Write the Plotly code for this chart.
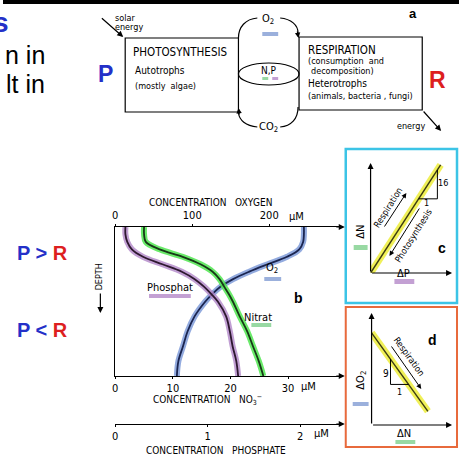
import plotly.graph_objects as go

W, H = 459, 456

# ---------------- data ----------------
# panel b: vertical profiles, relative depth (0 = surface, 1 = bottom)
depth = [0, 0.05, 0.1, 0.15, 0.2, 0.25, 0.3, 0.35, 0.4, 0.45, 0.5, 0.6, 0.7, 0.8, 0.9, 1.0]
oxygen_uM = [245, 245, 244, 239, 223, 198, 174, 153, 137, 126, 117, 103, 94, 88, 82, 80]
nitrate_uM = [5.0, 5.0, 5.3, 7.7, 11.7, 14.8, 16.9, 18.1, 18.9, 19.7, 20.4, 21.6, 22.9, 23.9, 24.9, 25.7]
phosphate_uM = [0.11, 0.11, 0.13, 0.18, 0.30, 0.51, 0.72, 0.86, 0.96, 1.04, 1.11, 1.20, 1.24, 1.27, 1.31, 1.33]

oxygen_ticks = [0, 100, 200]
nitrate_ticks = [0, 10, 20, 30]
phosphate_ticks = [0, 1, 2]

# panel c: Redfield N:P = 16:1
delta_p = [0, 0.86]
ratio_np = 16
# panel d: O2 consumed per N released = 9:1
delta_n = [0, 0.70]
ratio_on = 9
o2_start = 7.4

# ---------------- styling ----------------
FONT = "Liberation Sans Narrow, DejaVu Sans Condensed, Arial Narrow, Liberation Sans, sans-serif"
SANS = "Liberation Sans, Arial, sans-serif"
P_BLUE = "#2430c8"
R_RED = "#dd1f1f"
BLUE_BAND, BLUE_LINE = "rgba(120,150,215,0.8)", "#1b2550"
PURPLE_BAND, PURPLE_LINE = "rgba(178,135,200,0.8)", "#2e1830"
GREEN_BAND, GREEN_LINE = "rgba(80,230,80,0.85)", "#173817"
YELLOW_BAND, YELLOW_LINE = "rgba(238,238,70,0.9)", "#3a3a12"
SW_BLUE, SW_PURPLE, SW_GREEN = "#9bb0dc", "#c3a0d3", "#98d9a3"

# pixel rows of the three concentration axes
Y_TOP, Y_NO3, Y_PO4 = 227, 376, 424


def dom_x(a, b):
    return [a / W, b / W]


def dom_y(top, bottom):
    return [1 - bottom / H, 1 - top / H]


fig = go.Figure()


def profile(x, y, xa, band, dark):
    fig.add_trace(go.Scatter(x=x, y=y, xaxis=xa, yaxis="y", mode="lines",
                             line=dict(color=band, width=6, shape="spline"),
                             hoverinfo="skip", showlegend=False))
    fig.add_trace(go.Scatter(x=x, y=y, xaxis=xa, yaxis="y", mode="lines",
                             line=dict(color=dark, width=1.8, shape="spline"),
                             hoverinfo="skip", showlegend=False))


profile(oxygen_uM, depth, "x", BLUE_BAND, BLUE_LINE)
profile(phosphate_uM, depth, "x3", PURPLE_BAND, PURPLE_LINE)
profile(nitrate_uM, depth, "x2", GREEN_BAND, GREEN_LINE)


def ratio_line(x, y, xa, ya):
    fig.add_trace(go.Scatter(x=x, y=y, xaxis=xa, yaxis=ya, mode="lines",
                             line=dict(color=YELLOW_BAND, width=7),
                             hoverinfo="skip", showlegend=False))
    fig.add_trace(go.Scatter(x=x, y=y, xaxis=xa, yaxis=ya, mode="lines",
                             line=dict(color=YELLOW_LINE, width=1.4),
                             hoverinfo="skip", showlegend=False))


# panel c line and slope triangle
delta_n_c = [ratio_np * p for p in delta_p]
ratio_line(delta_p, delta_n_c, "x4", "y4")
tc0, tc1 = 0.59, 0.82
fig.add_trace(go.Scatter(x=[tc0, tc1, tc1], y=[ratio_np * tc0, ratio_np * tc0, ratio_np * tc1],
                         xaxis="x4", yaxis="y4", mode="lines",
                         line=dict(color="black", width=1), hoverinfo="skip", showlegend=False))

# panel d line and slope triangle
o2_d = [o2_start - ratio_on * n for n in delta_n]
ratio_line(delta_n, o2_d, "x5", "y5")
td0, td1 = 0.235, 0.46
fig.add_trace(go.Scatter(x=[td0, td0, td1],
                         y=[o2_start - ratio_on * td0, o2_start - ratio_on * td1, o2_start - ratio_on * td1],
                         xaxis="x5", yaxis="y5", mode="lines",
                         line=dict(color="black", width=1), hoverinfo="skip", showlegend=False))

# pixel canvas for the drawing elements
fig.add_trace(go.Scatter(x=[0], y=[0], xaxis="x6", yaxis="y6", mode="markers",
                         marker=dict(opacity=0), hoverinfo="skip", showlegend=False))

tickfont = dict(family=FONT, size=11, color="black")
common_x = dict(showline=True, linecolor="black", linewidth=1.3, ticks="outside", ticklen=2,
                tickcolor="black", tickwidth=1, showgrid=False, zeroline=False, tickfont=tickfont,
                fixedrange=True)

layout_axes = dict(
    xaxis=dict(domain=dom_x(113, 340), range=[0, 227 / 0.775], side="top", anchor="y",
               tickvals=oxygen_ticks, **common_x),
    xaxis2=dict(overlaying="x", range=[0, 227 / 5.8], side="bottom", anchor="y",
                tickvals=nitrate_ticks, **common_x),
    xaxis3=dict(overlaying="x", range=[0, 227 / 93], side="bottom", anchor="free",
                position=1 - Y_PO4 / H, tickvals=phosphate_ticks, **common_x),
    yaxis=dict(domain=dom_y(Y_TOP, Y_NO3), range=[1, 0], anchor="x", showline=True, linecolor="black",
               linewidth=1.3, showticklabels=False, ticks="", showgrid=False, zeroline=False,
               fixedrange=True),
    xaxis4=dict(domain=dom_x(370, 452), range=[0, 1], anchor="y4", visible=False, fixedrange=True),
    yaxis4=dict(domain=dom_y(163, 273), range=[0, 14], anchor="x4", visible=False, fixedrange=True),
    xaxis5=dict(domain=dom_x(371, 452), range=[0, 1], anchor="y5", visible=False, fixedrange=True),
    yaxis5=dict(domain=dom_y(313, 425), range=[0, 9], anchor="x5", visible=False, fixedrange=True),
    xaxis6=dict(domain=[0, 1], range=[0, W], anchor="y6", visible=False, fixedrange=True),
    yaxis6=dict(domain=[0, 1], range=[H, 0], anchor="x6", visible=False, fixedrange=True),
)

shapes = []
annotations = []


def text(x, y, s, size=10, color="black", angle=0, family=FONT, xanchor="center", bold=False):
    if bold:
        s = "<b>" + s + "</b>"
    annotations.append(dict(x=x, y=y, xref="x6", yref="y6", text=s, showarrow=False,
                            xanchor=xanchor, yanchor="middle", textangle=angle,
                            borderpad=0, font=dict(family=family, size=size, color=color)))


def arrow(x0, y0, x1, y1, width=1.2, size=1.0, ref=("x6", "y6")):
    annotations.append(dict(x=x1, y=y1, ax=x0, ay=y0, xref=ref[0], yref=ref[1],
                            axref=ref[0], ayref=ref[1], text="", showarrow=True,
                            arrowhead=2, arrowsize=size, arrowwidth=width,
                            arrowcolor="black", standoff=0, startstandoff=0))


def rect(x0, y0, x1, y1, color="black", width=1.2, fill=None):
    shapes.append(dict(type="rect", xref="x6", yref="y6", x0=x0, y0=y0, x1=x1, y1=y1,
                       line=dict(color=color, width=width),
                       fillcolor=fill if fill else "rgba(0,0,0,0)"))


def swatch(x0, y0, x1, y1, color):
    shapes.append(dict(type="rect", xref="x6", yref="y6", x0=x0, y0=y0, x1=x1, y1=y1,
                       line=dict(width=0), fillcolor=color))


def path(d, width=1.2):
    shapes.append(dict(type="path", xref="x6", yref="y6", path=d,
                       line=dict(color="black", width=width)))


# top strip and clipped slide text
swatch(0, 0, W, 4, "black")
text(7, 22, "s", size=28, color=P_BLUE, family=SANS, xanchor="right", bold=True)
text(43, 55, "n in", size=25, family=SANS, xanchor="right")
text(43, 84, "lt in", size=25, family=SANS, xanchor="right")

# ---------------- panel a: cycle ----------------
rect(123, 38, 237, 112)
rect(298, 37, 422, 110)
text(130, 52, "PHOTOSYNTHESIS", size=11.5, xanchor="left")
text(132, 70, "Autotrophs", size=10, xanchor="left")
text(132, 86, "(mostly  algae)", size=9, xanchor="left")
text(306, 50, "RESPIRATION", size=11.5, xanchor="left")
text(306, 61, "(consumption  and", size=9, xanchor="left")
text(309, 71, "decomposition)", size=9, xanchor="left")
text(306, 83, "Heterotrophs", size=10, xanchor="left")
text(306, 96, "(animals, bacteria , fungi)", size=9, xanchor="left")

shapes.append(dict(type="circle", xref="x6", yref="y6", x0=237, x1=298, y0=63, y1=85,
                   line=dict(color="black", width=1.2)))
path("M 237,38 C 237,27 244,19 256,18")
path("M 279,18 C 290,19 297,25 297,33")
arrow(296, 30, 297.5, 38, size=0.9)
path("M 297,107 C 297,119 290,126 279,127")
path("M 256,127 C 244,126 238,120 237,113")
arrow(238, 116, 237, 108, size=0.9)
text(267, 19, "O<sub>2</sub>", size=11)
swatch(261, 32, 277, 36, SW_BLUE)
text(267, 127, "CO<sub>2</sub>", size=11)
text(268, 70, "N,P", size=10)
swatch(261, 77, 267, 80, SW_GREEN)
swatch(271, 77, 277, 80, SW_PURPLE)

text(123, 18, "solar", size=9)
text(127, 27, "energy", size=9)
arrow(98, 17, 121, 37)
text(411, 126, "energy", size=9)
arrow(422, 110, 441, 131)
text(413, 13, "a", size=13, bold=True, family=SANS)
text(103, 74, "P", size=23, color=P_BLUE, family=SANS, bold=True)
text(437, 80, "R", size=23, color=R_RED, family=SANS, bold=True)

# ---------------- panel b labels ----------------
text(209, 202, "CONCENTRATION&nbsp;&nbsp;&nbsp;OXYGEN", size=10)
text(295, 216, "μM", size=11)
text(206, 400, "CONCENTRATION&nbsp;&nbsp;&nbsp;NO<sub>3</sub><sup>−</sup>", size=10)
text(308, 386, "μM", size=11)
text(214, 450, "CONCENTRATION&nbsp;&nbsp;&nbsp;PHOSPHATE", size=10)
text(321, 433, "μM", size=11)
arrow(334, Y_TOP, 344, Y_TOP)
arrow(334, Y_NO3, 344, Y_NO3)
arrow(334, Y_PO4, 344, Y_PO4)
text(97, 277, "DEPTH", size=9, angle=-90)
arrow(98, 292, 98, 313)
text(168, 287, "Phosphat", size=11)
swatch(147, 294, 189, 298, SW_PURPLE)
text(271, 268, "O<sub>2</sub>", size=11)
swatch(263, 277, 280, 281, SW_BLUE)
text(257, 317, "Nitrat", size=11)
swatch(250, 323, 270, 327, SW_GREEN)
text(297, 298, "b", size=14, bold=True, family=SANS)

text(13, 253, "P &gt; <span style='color:%s'>R</span>" % R_RED, size=20, color=P_BLUE,
     family=SANS, xanchor="left", bold=True)
text(13, 330, "P &lt; <span style='color:%s'>R</span>" % R_RED, size=20, color=P_BLUE,
     family=SANS, xanchor="left", bold=True)

# ---------------- panel c ----------------
rect(345, 149, 457, 303, color="#3cc4e6", width=2.5)
arrow(0, 0, 0, 14, ref=("x4", "y4"))
arrow(0, 0, 1, 0, ref=("x4", "y4"))
text(443, 183, "16", size=9)
text(426, 203, "1", size=9)
text(388, 207, "Respiration", size=9, angle=-58)
arrow(383, 228, 406, 193, width=1)
text(413, 236, "Photosynthesis", size=9, angle=-58)
arrow(420, 207, 389, 256, width=1)
text(359, 232, "ΔN", size=11, angle=-90)
swatch(353, 245, 367, 250, SW_GREEN)
text(403, 273, "ΔP", size=11)
swatch(394, 279, 414, 284, SW_PURPLE)
text(442, 248, "c", size=14, bold=True, family=SANS)

# ---------------- panel d ----------------
rect(345, 307, 457, 447, color="#e86a3c", width=2)
arrow(0, 0, 0, 9, ref=("x5", "y5"))
arrow(0, 0, 1, 0, ref=("x5", "y5"))
text(386, 373, "9", size=10)
text(399, 392, "1", size=9)
text(409, 357, "Respiration", size=9, angle=54)
arrow(390, 345, 421, 389, width=1)
text(360, 380, "ΔO<sub>2</sub>", size=11, angle=-90)
swatch(352, 402, 368, 406, SW_BLUE)
text(404, 433, "ΔN", size=11)
swatch(395, 440, 415, 444, SW_GREEN)
text(432, 340, "d", size=14, bold=True, family=SANS)

fig.update_layout(
    width=W, height=H, margin=dict(l=0, r=0, t=0, b=0),
    paper_bgcolor="white", plot_bgcolor="rgba(0,0,0,0)",
    showlegend=False, shapes=shapes, annotations=annotations, **layout_axes,
)

fig.write_html("out.html")
